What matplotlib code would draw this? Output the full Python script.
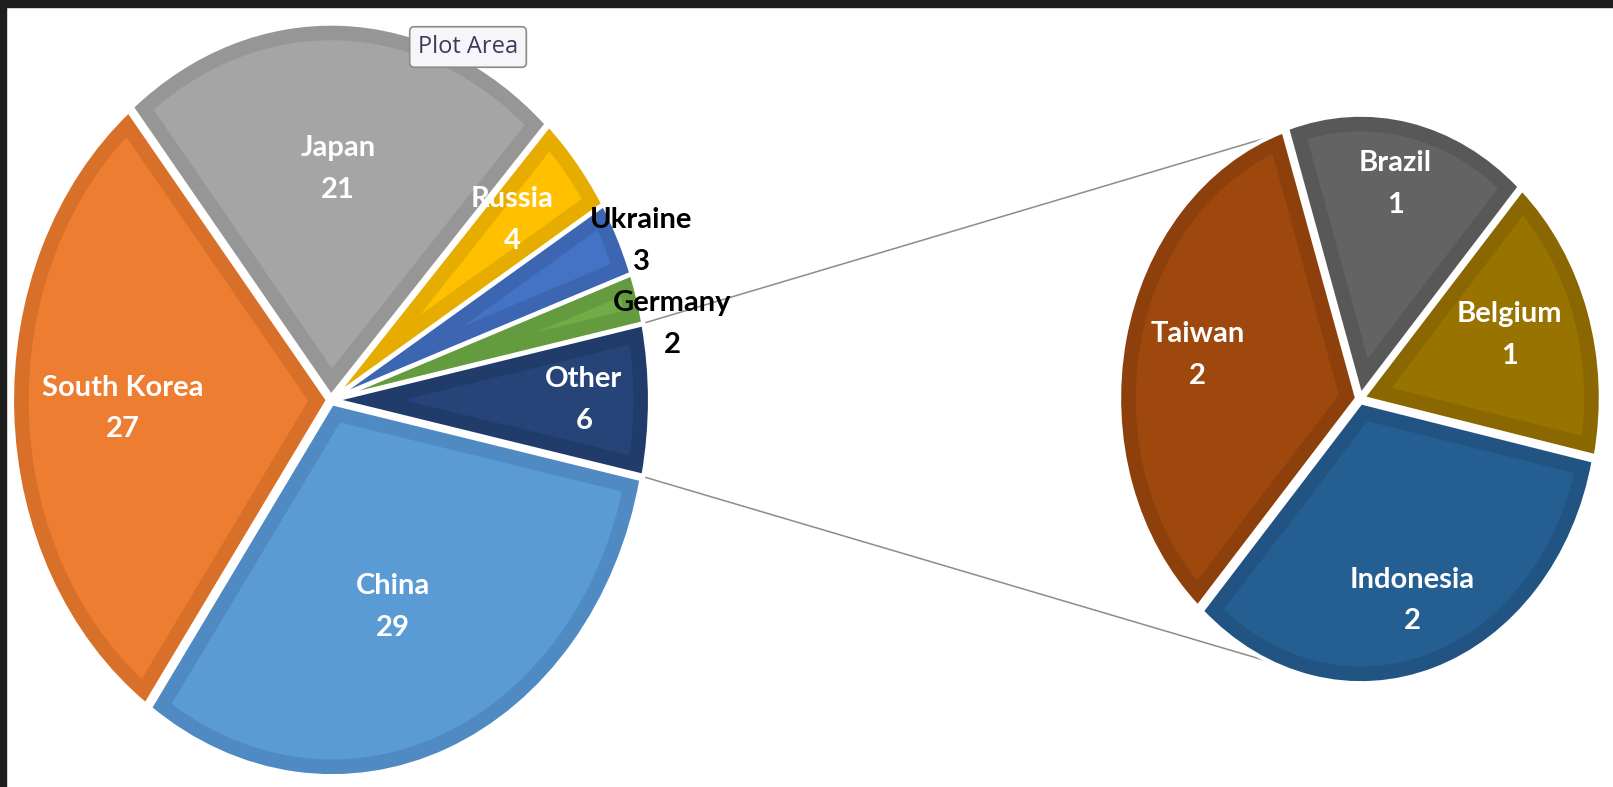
import numpy as np
import matplotlib.pyplot as plt
from matplotlib.patches import Rectangle

# main pie
main_labels = ['China', 'South Korea', 'Japan', 'Russia', 'Ukraine', 'Germany', 'Other']
main_values = [29, 27, 21, 4, 3, 2, 6]
main_colors = ['#5B9BD5', '#ED7D31', '#A5A5A5', '#FFC000', '#4472C4', '#70AD47', '#264478']
main_edges = ['#4F8AC2', '#D87029', '#969696', '#E6AD00', '#3C66B2', '#639B3E', '#213C6B']
# label placement: distance (fraction of radius), angle tweak, text colour
main_lab_dist = [0.59, 0.66, 0.62, 0.75, 1.07, 1.10, 0.80]
main_lab_turn = [-2, 0, 0, 1, -2, -5, 0]
main_lab_col = ['white', 'white', 'white', 'white', 'black', 'black', 'white']

# secondary pie (breakdown of "Other")
sub_labels = ['Brazil', 'Belgium', 'Indonesia', 'Taiwan']
sub_values = [1, 1, 2, 2]
sub_colors = ['#636363', '#997300', '#255E91', '#9E480E']
sub_edges = ['#585858', '#8A6700', '#215483', '#8E400C']
sub_lab_dist = [0.78, 0.67, 0.75, 0.70]
sub_lab_turn = [1, 2, -1, -1]

STRETCH = 1.18  # the screenshot is stretched vertically
W, H = 1613, 787
main_c = (331, (H - 400) / STRETCH)
main_r = 316
sub_c = (1360, (H - 399) / STRETCH)
sub_r = 238

fig = plt.figure(figsize=(W / 100, H / 100), dpi=100)
ax = fig.add_axes([0, 0, 1, 1])


def draw_pie(vals, cols, edges, center, r, start):
    wedges, _ = ax.pie(vals, colors=cols, startangle=start, counterclock=False,
                       center=center, radius=r, explode=[3] * len(vals), frame=True,
                       wedgeprops=dict(linewidth=24))
    for w, ec in zip(wedges, edges):
        w.set_edgecolor(ec)
        w.set_clip_on(True)
        w.set_clip_path(w)
    ax.pie(vals, startangle=start, counterclock=False, center=center, radius=r,
           explode=[3] * len(vals), frame=True,
           wedgeprops=dict(linewidth=3, edgecolor='white', fill=False))
    return wedges


def put_labels(wedges, names, vals, dists, turns, cols, center, r):
    for w, n, v, d, t, c in zip(wedges, names, vals, dists, turns, cols):
        a = np.deg2rad((w.theta1 + w.theta2) / 2 + t)
        ax.text(center[0] + d * r * np.cos(a), center[1] + d * r * np.sin(a),
                f'{n}\n{v}', ha='center', va='center', color=c, fontsize=21,
                fontweight='bold', family=['Lato', 'DejaVu Sans'], linespacing=1.75,
                zorder=5)


other_half = main_values[-1] / sum(main_values) * 180
mw = draw_pie(main_values, main_colors, main_edges, main_c, main_r, 360 - other_half)
sw = draw_pie(sub_values, sub_colors, sub_edges, sub_c, sub_r, 108)

put_labels(mw, main_labels, main_values, main_lab_dist, main_lab_turn, main_lab_col,
           main_c, main_r)
put_labels(sw, sub_labels, sub_values, sub_lab_dist, sub_lab_turn, ['white'] * 4,
           sub_c, sub_r)

# connector lines from "Other" to the secondary pie
for a_main, a_sub in [(other_half, 108), (-other_half, 255)]:
    p0 = (main_c[0] + main_r * np.cos(np.deg2rad(a_main)),
          main_c[1] + main_r * np.sin(np.deg2rad(a_main)))
    p1 = (sub_c[0] + sub_r * np.cos(np.deg2rad(a_sub)),
          sub_c[1] + sub_r * np.sin(np.deg2rad(a_sub)))
    ax.plot([p0[0], p1[0]], [p0[1], p1[1]], color='#8C8C8C', lw=1.1, zorder=0)

# excel tooltip
ax.text(468, (H - 47) / STRETCH, 'Plot Area', ha='center', va='center', fontsize=17,
        color='#3C3C5A', family=['Open Sans', 'DejaVu Sans'], zorder=6,
        bbox=dict(boxstyle='round,pad=0.35,rounding_size=0.2', fc='#F5F5FA',
                  ec='#8A8A8A', lw=1.2))

ax.set_aspect('auto')
ax.set_xlim(0, W)
ax.set_ylim(0, H / STRETCH)
ax.axis('off')

# dark screenshot border at top and left
fig.add_artist(Rectangle((0, 1 - 7 / H), 1, 7 / H, transform=fig.transFigure,
                         color='#1E1E1E', zorder=10))
fig.add_artist(Rectangle((0, 0), 6 / W, 1, transform=fig.transFigure,
                         color='#1E1E1E', zorder=10))

fig.savefig('out.png', dpi=100, facecolor='white')
